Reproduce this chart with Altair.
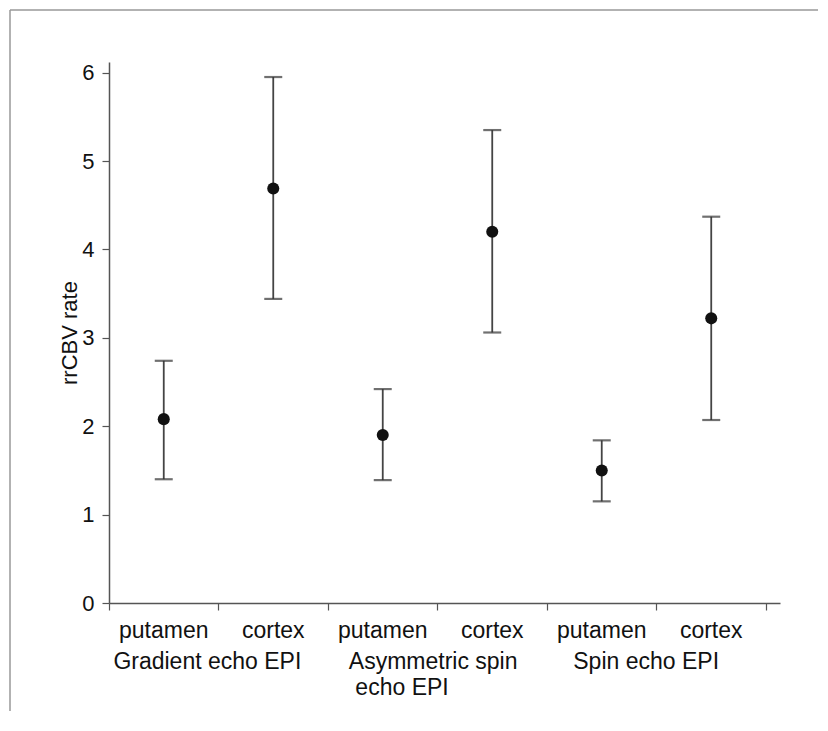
import altair as alt
import pandas as pd

# ---- data ----
tissue = ["putamen", "cortex", "putamen", "cortex", "putamen", "cortex"]
xpos = [0.5, 1.5, 2.5, 3.5, 4.5, 5.5]
mean_val = [2.08, 4.69, 1.90, 4.20, 1.50, 3.22]
upper_val = [2.74, 5.95, 2.42, 5.35, 1.84, 4.37]
lower_val = [1.40, 3.44, 1.39, 3.06, 1.15, 2.07]

group_text = ["Gradient echo EPI", "Asymmetric spin", "echo EPI", "Spin echo EPI"]
group_x = [0.04, 2.19, 2.25, 4.24]
group_row = [0, 0, 1, 0]

y_ticks = [0, 1, 2, 3, 4, 5, 6]
x_ticks = [0, 1, 2, 3, 4, 5, 6]

df = pd.DataFrame({"tissue": tissue, "x": xpos, "mean": mean_val,
                   "upper": upper_val, "lower": lower_val})
gdf = pd.DataFrame({"text": group_text, "x": group_x, "row": group_row})

FONT = "Liberation Sans"
AX = "#555555"
INK = "#111111"

xscale = alt.Scale(domain=[0, 6.128], nice=False, zero=False)
yscale = alt.Scale(domain=[0, 6.12], nice=False)

base = alt.Chart(df)

x_enc = alt.X("x:Q", scale=xscale,
              axis=alt.Axis(values=x_ticks, labels=False, title=None, grid=False,
                            tickSize=7, tickColor=AX, domainColor=AX,
                            domainWidth=1.5, tickWidth=1.2))
y_enc = alt.Y("mean:Q", scale=yscale,
              axis=alt.Axis(values=y_ticks, format="d", title="rrCBV rate", grid=False,
                            tickSize=7, tickColor=AX, domainColor=AX,
                            domainWidth=1.5, tickWidth=1.2,
                            labelFontSize=22, labelFont=FONT, labelColor=INK,
                            labelPadding=8, titleFont=FONT, titleFontSize=22,
                            titleFontWeight="normal", titleColor=INK,
                            titlePadding=0))

bars = base.mark_rule(color="#444444", strokeWidth=1.8).encode(
    x=x_enc, y=alt.Y("lower:Q", scale=yscale), y2="upper:Q")

cap_hi = base.mark_tick(color="#333333", orient="horizontal", size=18, thickness=2.2).encode(
    x="x:Q", y=alt.Y("upper:Q", scale=yscale))
cap_lo = base.mark_tick(color="#333333", orient="horizontal", size=18, thickness=2.2).encode(
    x="x:Q", y=alt.Y("lower:Q", scale=yscale))

points = base.mark_point(filled=True, color="#111111", size=145, opacity=1).encode(
    x="x:Q", y=y_enc)

tick_labels = base.mark_text(font=FONT, fontSize=23, color=INK, align="center",
                             baseline="alphabetic").encode(
    x="x:Q", y=alt.value(576), text="tissue:N")

g1 = alt.Chart(gdf).transform_filter("datum.row == 0").mark_text(
    font=FONT, fontSize=23, color=INK, align="left", baseline="alphabetic").encode(
    x="x:Q", y=alt.value(607), text="text:N")
g2 = alt.Chart(gdf).transform_filter("datum.row == 1").mark_text(
    font=FONT, fontSize=23, color=INK, align="left", baseline="alphabetic").encode(
    x="x:Q", y=alt.value(633), text="text:N")

frame_df = pd.DataFrame({"a": [0]})
frame_left = alt.Chart(frame_df).mark_rule(color="#999999", strokeWidth=1.5).encode(
    x=alt.value(-99), y=alt.value(-52), y2=alt.value(700))
frame_top = alt.Chart(frame_df).mark_rule(color="#999999", strokeWidth=1.5).encode(
    x=alt.value(-99), x2=alt.value(709), y=alt.value(-52))

chart = alt.layer(frame_left, frame_top, bars, cap_hi, cap_lo, points,
                  tick_labels, g1, g2).properties(
    width=671, height=541,
    autosize=alt.AutoSizeParams(type="none"),
    padding={"left": 101, "top": 54, "right": 40, "bottom": 108},
).configure_view(stroke=None)

chart.save("out.html", embed_options={"renderer": "svg", "actions": False})
